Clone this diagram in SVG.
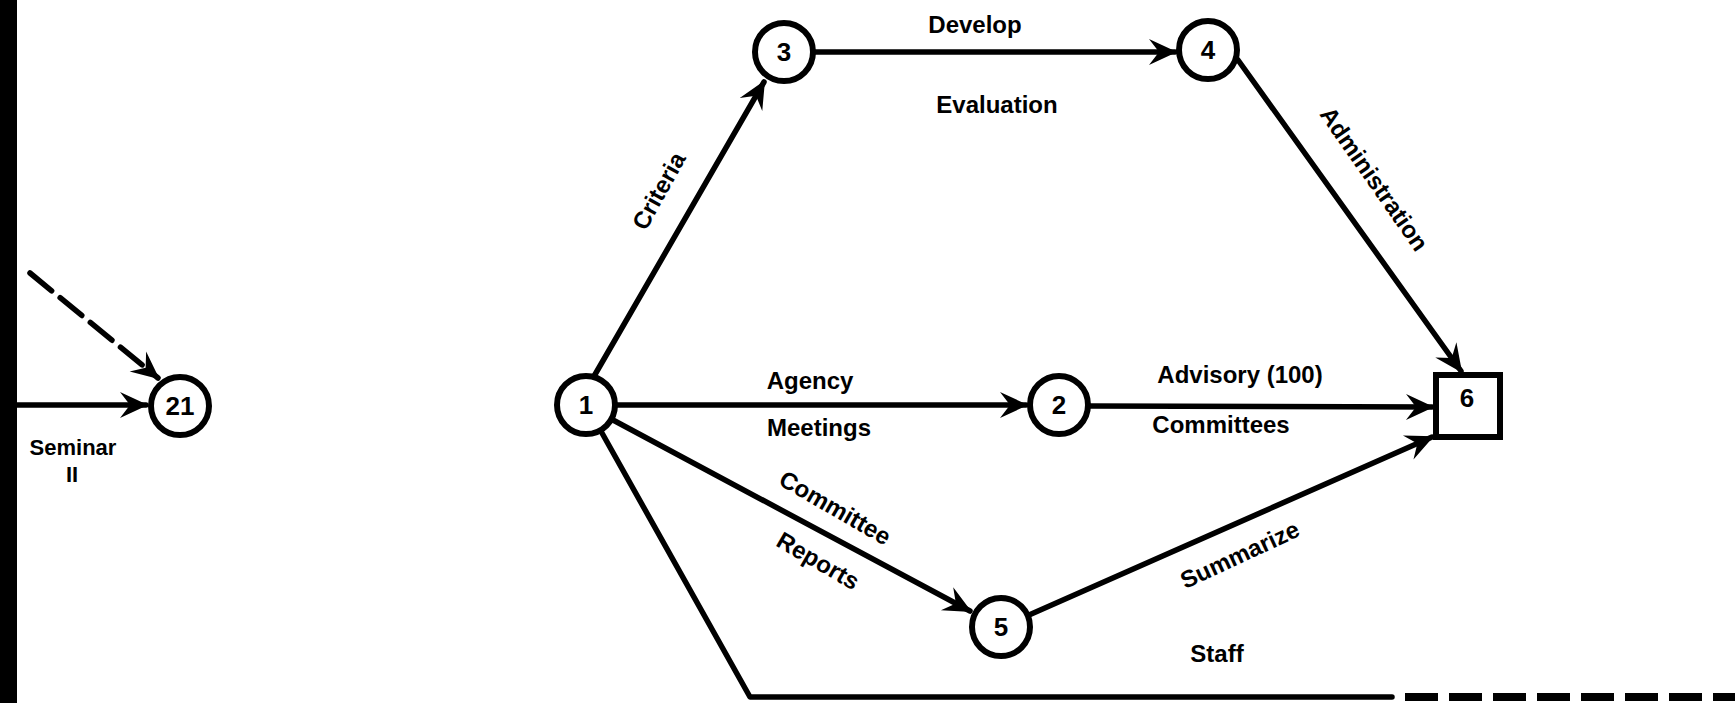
<svg xmlns="http://www.w3.org/2000/svg" width="1735" height="703" viewBox="0 0 1735 703">
<style>
.edge{fill:none;stroke:#000;stroke-width:5.5;stroke-linecap:round;stroke-linejoin:round}
.node{fill:#fff;stroke:#000;stroke-width:6}
.num{font-family:"Liberation Sans",Arial,sans-serif;font-weight:bold;font-size:26px;text-anchor:middle;fill:#000}
.lbl{font-family:"Liberation Sans",Arial,sans-serif;font-weight:bold;font-size:24px;fill:#000}
.sm{font-size:22px}
.c{text-anchor:middle}
</style>
<defs>
<marker id="arr" markerUnits="userSpaceOnUse" markerWidth="40" markerHeight="40" viewBox="-30 -20 40 40" refX="0" refY="0" orient="auto">
<path d="M2,0 L-26,-13 L-16,0 L-26,13 Z" fill="#000"/>
</marker>
</defs>
<rect x="0" y="0" width="1735" height="703" fill="#fff"/>
<rect id="binding-edge" x="0" y="0" width="17" height="703" fill="#000"/>

<g id="connectors">
<line class="edge" x1="17" y1="405" x2="146" y2="405" marker-end="url(#arr)"/>
<line class="edge" x1="30" y1="273" x2="158" y2="378" stroke-dasharray="28 11" stroke-linecap="butt" marker-end="url(#arr)"/>
<line class="edge" x1="593" y1="378" x2="764" y2="82" marker-end="url(#arr)"/>
<line class="edge" x1="815" y1="52" x2="1175" y2="52" marker-end="url(#arr)"/>
<line class="edge" x1="1238" y1="60" x2="1461" y2="371" marker-end="url(#arr)"/>
<line class="edge" x1="616" y1="405" x2="1026" y2="405" marker-end="url(#arr)"/>
<line class="edge" x1="1089" y1="406" x2="1432" y2="407" marker-end="url(#arr)"/>
<line class="edge" x1="613" y1="420" x2="970" y2="611" marker-end="url(#arr)"/>
<line class="edge" x1="1029" y1="615" x2="1432" y2="437" marker-end="url(#arr)"/>
<polyline class="edge" points="602,433 750,697 1392,697" stroke-width="7"/>
<line x1="1405" y1="697" x2="1735" y2="697" stroke="#000" stroke-width="8" stroke-dasharray="33 11"/>
</g>

<g id="node-21"><circle class="node" cx="180" cy="406" r="29"/><text class="num" x="180" y="415">21</text></g>
<g id="node-1"><circle class="node" cx="586" cy="405" r="29"/><text class="num" x="586" y="414">1</text></g>
<g id="node-2"><circle class="node" cx="1059" cy="405" r="29"/><text class="num" x="1059" y="414">2</text></g>
<g id="node-3"><circle class="node" cx="784" cy="52" r="29"/><text class="num" x="784" y="61">3</text></g>
<g id="node-4"><circle class="node" cx="1208" cy="50" r="29"/><text class="num" x="1208" y="59">4</text></g>
<g id="node-5"><circle class="node" cx="1001" cy="627" r="29"/><text class="num" x="1001" y="636">5</text></g>
<g id="node-6"><rect class="node" x="1436" y="375" width="64" height="62"/><text class="num" x="1467" y="407">6</text></g>

<g id="labels">
<text class="lbl sm c" x="73" y="455">Seminar</text>
<text class="lbl sm c" x="72" y="482">II</text>
<text class="lbl c" x="975" y="33">Develop</text>
<text class="lbl c" x="997" y="113">Evaluation</text>
<text class="lbl c" transform="translate(659,191) rotate(-61)" x="0" y="8">Criteria</text>
<text class="lbl c" transform="translate(1374,179) rotate(55)" x="0" y="8">Administration</text>
<text class="lbl c" x="810" y="389">Agency</text>
<text class="lbl c" x="819" y="436">Meetings</text>
<text class="lbl c" x="1240" y="383">Advisory (100)</text>
<text class="lbl c" x="1221" y="433">Committees</text>
<text class="lbl c" transform="translate(835,508) rotate(30)" x="0" y="8">Committee</text>
<text class="lbl c" transform="translate(818,561) rotate(30)" x="0" y="8">Reports</text>
<text class="lbl c" transform="translate(1240,555) rotate(-25)" x="0" y="8">Summarize</text>
<text class="lbl c" x="1217" y="662">Staff</text>
</g>
</svg>
